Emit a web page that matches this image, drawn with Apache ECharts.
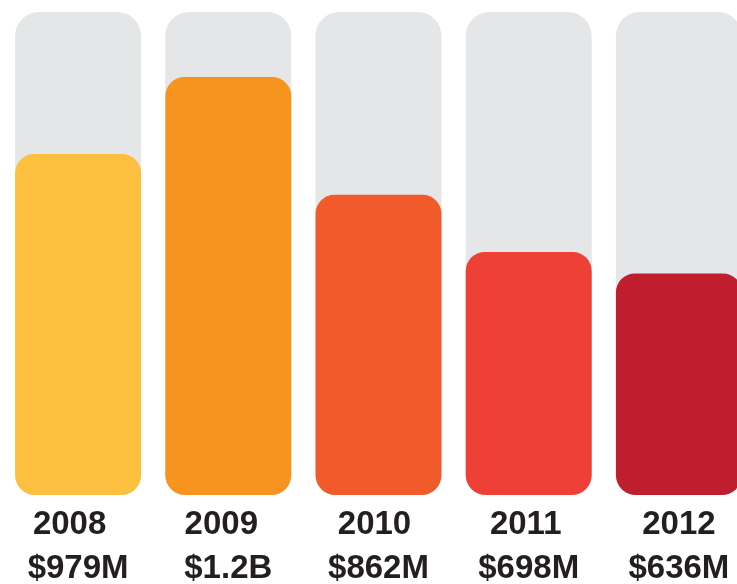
<!DOCTYPE html>
<html>
<head>
<meta charset="utf-8">
<script src="https://cdn.jsdelivr.net/npm/echarts@6/dist/echarts.min.js"></script>
<style>
  html, body { margin: 0; padding: 0; background: #ffffff; }
  #chart { width: 737px; height: 584px; }
</style>
</head>
<body>
<div id="chart"></div>
<script>
// Annual totals, in millions of dollars
const years = ['2008', '2009', '2010', '2011', '2012'];
const amounts = [979, 1200, 862, 698, 636];
const amountLabels = ['$979M', '$1.2B', '$862M', '$698M', '$636M'];
const barColors = ['#FDBF3F', '#F6941F', '#F15A2A', '#EF4038', '#BE1E2E'];
// extra right-hand padding that nudges each year caption leftwards
const yearNudge = [17, 14, 8, 6, 0];

const chart = echarts.init(document.getElementById('chart'), null, { renderer: 'canvas' });

const labelFont = {
  fontFamily: 'Liberation Sans, Arial, sans-serif',
  fontWeight: 'bold',
  fontSize: 33,
  color: '#231F20'
};

const richStyles = {
  v: Object.assign({ lineHeight: 46 }, labelFont)
};
yearNudge.forEach(function (n, i) {
  richStyles['y' + i] = Object.assign({ lineHeight: 42, padding: [0, n, 0, 0] }, labelFont);
});

const option = {
  backgroundColor: '#ffffff',
  animation: false,
  grid: {
    left: 3, top: 12, width: 751, height: 483,
    containLabel: false,
    outerBoundsMode: 'none'
  },
  xAxis: {
    type: 'category',
    data: years,
    axisLine: { show: false },
    axisTick: { show: false },
    axisLabel: {
      interval: 0,
      margin: 9,
      formatter: function (value, idx) {
        return '{y' + idx + '|' + value + '}\n{v|' + amountLabels[idx] + '}';
      },
      rich: richStyles
    }
  },
  yAxis: {
    type: 'value',
    min: 0,
    max: 1387,
    show: false,
    splitLine: { show: false }
  },
  series: [{
    type: 'bar',
    barWidth: 126,
    showBackground: true,
    backgroundStyle: {
      color: '#E5E6E8',
      borderRadius: [24, 24, 20, 20]
    },
    itemStyle: { borderRadius: [19, 19, 20, 20] },
    data: amounts.map(function (v, i) {
      return { value: v, itemStyle: { color: barColors[i] } };
    })
  }]
};

chart.setOption(option);
</script>
</body>
</html>
